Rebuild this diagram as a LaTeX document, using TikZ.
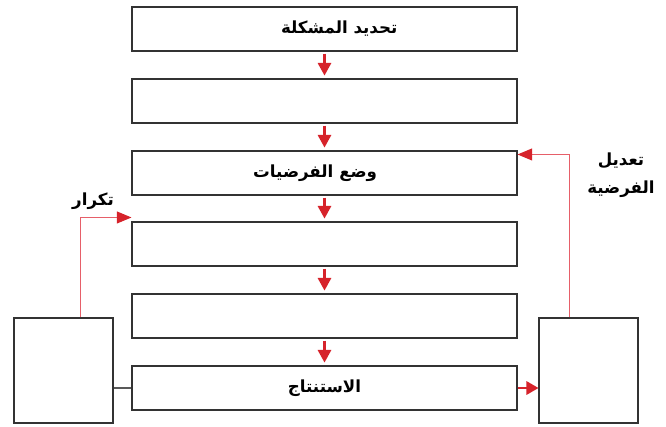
\documentclass[tikz,border=0pt]{standalone}
\usepackage{fontspec}
\newfontfamily\arabicfont[Script=Arabic]{DejaVu Sans}
\TeXXeTstate=1
\usetikzlibrary{arrows.meta}
\definecolor{arrowred}{RGB}{214,35,43}
\definecolor{linered}{RGB}{230,95,105}
\tikzset{
    stepbox/.style={draw=black!80, line width=0.8pt, minimum width=288.75pt, minimum height=33pt, inner sep=0pt, font=\arabicfont\bfseries\fontsize{12.5}{15}\selectfont},
    sidebox/.style={draw=black!80, line width=0.8pt, minimum width=74.25pt, minimum height=78.75pt, inner sep=0pt},
    down/.style={arrowred, line width=1.6pt, shorten <=1.5pt, shorten >=2.2pt, -{Triangle[length=9.5pt,width=10pt]}},
    backloop/.style={linered, line width=0.8pt, -{Triangle[length=11pt,width=9pt,color=arrowred]}},
    looplabel/.style={font=\arabicfont\bfseries\fontsize{12.5}{15}\selectfont, align=center, inner sep=0pt}
}
\begin{document}
\begin{tikzpicture}[x=0.75pt, y=-0.75pt]
    \useasboundingbox (0,0) rectangle (666,426);
    % main steps
    \node[stepbox] (problem) at (324.5,29) {\hspace{22pt}\beginR تحديد المشكلة\endR};
    \node[stepbox] (info) at (324.5,101) {};
    \node[stepbox] (hypo) at (324.5,173) {\hspace{-14pt}\beginR وضع الفرضيات\endR};
    \node[stepbox] (test) at (324.5,244) {};
    \node[stepbox] (analysis) at (324.5,316) {};
    \node[stepbox] (result) at (324.5,388) {\beginR الاستنتاج\endR};
    % side boxes
    \node[sidebox] (left) at (63.5,370.5) {};
    \node[sidebox] (right) at (588.5,370.5) {};
    % arrows between steps
    \draw[down] (problem) -- (info);
    \draw[down] (info) -- (hypo);
    \draw[down] (hypo) -- (test);
    \draw[down] (test) -- (analysis);
    \draw[down] (analysis) -- (result);
    \draw[black!65, line width=0.8pt] (result.west) -- (left.east |- result.west);
    \draw[arrowred, line width=1.6pt, -{Triangle[length=9pt,width=10pt]}] (result.east) -- (right.west |- result.east);
    % loops back
    \draw[backloop] ([xshift=12.4pt]left.north) |- ([yshift=3pt]test.north west);
    \draw[backloop] ([xshift=-14.6pt]right.north) |- ([yshift=-3pt]hypo.north east);
    \node[looplabel] (repeat) at (93,201) {\beginR تكرار\endR};
    \node[looplabel] (modify) at (621,175) {\beginR تعديل\endR\\[6pt]\beginR الفرضية\endR};
\end{tikzpicture}
\end{document}
